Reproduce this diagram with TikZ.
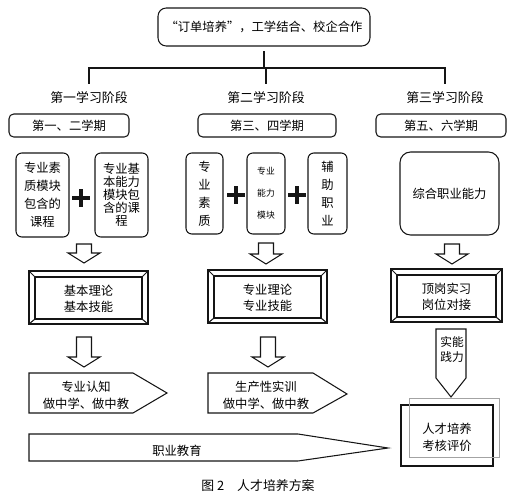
\documentclass[tikz,border=0pt]{standalone}
\usepackage{fontspec}
\setmainfont{Noto Sans CJK SC}
\usetikzlibrary{positioning,calc}
\definecolor{InkBlack}{HTML}{151515}
\definecolor{FrameGray}{HTML}{A3A3A3}
\newcommand{\pxu}{0.03cm}

\begin{document}
\begin{tikzpicture}[x=0.03cm,y=-0.03cm,
    box/.style={draw=InkBlack,line width=0.9pt,rounded corners=5pt,align=center,inner sep=0pt},
    tree/.style={draw=InkBlack,line width=2.2pt},
    outline/.style={draw=InkBlack,line width=0.9pt,line join=miter},
    plus/.style={draw=InkBlack,line width=3pt},
    txt/.style={align=center,inner sep=0pt,font=\fontsize{10.5}{14}\selectfont}]
  \useasboundingbox (0,0) rectangle (518,500);

  % top of the tree
  \node[box,rounded corners=7pt,minimum width=212*\pxu,minimum height=38*\pxu,
        font=\fontsize{10.5}{13}\selectfont] (top) at (264,27) {“订单培养”，工学结合、校企合作};
  \coordinate (bar) at (266,68);
  \node[txt,font=\fontsize{11}{13}\selectfont] (stage1) at (89,98) {第一学习阶段};
  \node[txt,font=\fontsize{11}{13}\selectfont] (stage2) at (266,98) {第二学习阶段};
  \node[txt,font=\fontsize{11}{13}\selectfont] (stage3) at (445,98) {第三学习阶段};
  \draw[tree] ([yshift=-4pt]top.south) -- (top.south |- bar);
  \draw[tree,line cap=rect] (stage1 |- bar) -- (stage3 |- bar);
  \foreach \s in {stage1,stage2,stage3} {
    \draw[tree,shorten >=7pt] (\s |- bar) -- (\s.north);
  }

  % semesters
  \node[box,rounded corners=4pt,minimum width=120*\pxu,minimum height=23*\pxu,
        font=\fontsize{10.5}{13}\selectfont] (term1) at (69,125.5) {第一、二学期};
  \node[box,rounded corners=4pt,minimum width=138*\pxu,minimum height=23*\pxu,
        font=\fontsize{10.5}{13}\selectfont] (term2) at (267,125.5) {第三、四学期};
  \node[box,rounded corners=4pt,minimum width=130*\pxu,minimum height=23*\pxu,
        font=\fontsize{10.5}{13}\selectfont] (term3) at (441,125.5) {第五、六学期};

  % modules
  \node[box,minimum width=53*\pxu,minimum height=84*\pxu,
        font=\fontsize{10.5}{15.3}\selectfont] (quality) at (42.5,195) {专业素\\质模块\\包含的\\课程};
  \node[box,minimum width=53*\pxu,minimum height=84*\pxu,
        font=\fontsize{10.5}{11}\selectfont] (basic) at (121.5,195) {专业基\\本能力\\模块包\\含的课\\程};
  \node[box,minimum width=37*\pxu,minimum height=81*\pxu,
        font=\fontsize{10.5}{15.3}\selectfont] (suzhi) at (204.5,193.5) {专\\业\\素\\质};
  \node[box,minimum width=38*\pxu,minimum height=81*\pxu,
        font=\fontsize{7.5}{18.7}\selectfont] (ability) at (266,193.5) {专业\\能力\\模块};
  \node[box,minimum width=39*\pxu,minimum height=81*\pxu,
        font=\fontsize{10.5}{15.3}\selectfont] (assist) at (327.5,193.5) {辅\\助\\职\\业};
  \node[box,rounded corners=9pt,minimum width=99*\pxu,minimum height=83*\pxu,
        font=\fontsize{10.5}{13}\selectfont] (overall) at (449.5,193.5) {综合职业能力};
  \foreach \cx/\cy in {81/198,236/195,297/195} {
    \draw[plus] (\cx-9,\cy) -- (\cx+9,\cy) (\cx,\cy-9) -- (\cx,\cy+9);
  }

  % hollow arrows
  \foreach \cx/\ty/\ny/\tip in {84/244/253/263,266/243/254/264,452/244/254/264,84/337/357/367,268/337/357/367} {
    \draw[outline,fill=white] (\cx-7.5,\ty) -- (\cx+7.5,\ty) -- (\cx+7.5,\ny) -- (\cx+16,\ny)
      -- (\cx,\tip) -- (\cx-16,\ny) -- (\cx-7.5,\ny) -- cycle;
  }

  % bevelled frames
  \foreach \l/\t/\r/\b in {29/271/148/324,208/270/327/323,391/269/502/322} {
    \draw[outline] (\l,\t) rectangle (\r,\b);
    \draw[outline] (\l+6,\t+6) rectangle (\r-6,\b-5);
    \draw[outline] (\l,\t) -- (\l+6,\t+6) (\r,\t) -- (\r-6,\t+6)
      (\r,\b) -- (\r-6,\b-5) (\l,\b) -- (\l+6,\b-5);
  }
  \node[txt,font=\fontsize{10.5}{13.6}\selectfont] (theory1) at (88.5,299) {基本理论\\基本技能};
  \node[txt,font=\fontsize{10.5}{13.6}\selectfont] (theory2) at (267.5,298) {专业理论\\专业技能};
  \node[txt,font=\fontsize{10.5}{13.6}\selectfont] (intern) at (446.5,297) {顶岗实习\\岗位对接};

  % practice arrows
  \draw[outline] (29,373) -- (133,373) -- (167,393) -- (133,413) -- (29,413) -- cycle;
  \node[txt,font=\fontsize{10.5}{14.5}\selectfont] (practice1) at (86,395) {专业认知\\做中学、做中教};
  \draw[outline] (208,373) -- (313,373) -- (347,394) -- (313,413) -- (208,413) -- cycle;
  \node[txt,font=\fontsize{10.5}{14.5}\selectfont] (practice2) at (266,395) {生产性实训\\做中学、做中教};
  \draw[outline] (436,329) -- (466,329) -- (466,378) -- (451,397) -- (436,378) -- cycle;
  \node[txt,font=\fontsize{10}{12.8}\selectfont] (skill) at (452,350) {实能\\践力};

  % evaluation
  \draw[InkBlack,line width=1.1pt] (401,405) rectangle (493,466);
  \draw[FrameGray,line width=0.7pt] (409,398) rectangle (499,457);
  \node[txt,font=\fontsize{10.5}{14.5}\selectfont] (assess) at (447,437) {人才培养\\考核评价};

  % vocational education band
  \draw[outline] (29,434) -- (298,434) -- (388,448) -- (298,461) -- (29,461) -- cycle;
  \node[txt] (vocation) at (177,451) {职业教育};

  \node[txt,font=\fontsize{11}{13}\selectfont] (caption) at (258,486) {图 2\quad 人才培养方案};
\end{tikzpicture}
\end{document}
